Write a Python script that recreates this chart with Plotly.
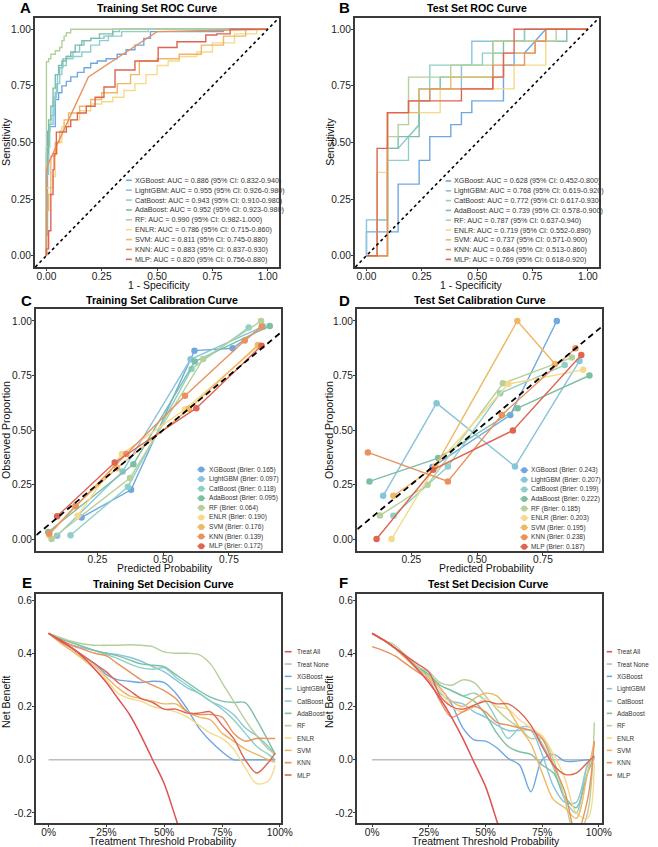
import plotly.graph_objects as go

W, H = 658, 847
FONT = "Liberation Sans, Arial, sans-serif"

MODELS = ["XGBoost", "LightGBM", "CatBoost", "AdaBoost", "RF", "ENLR", "SVM", "KNN", "MLP"]
COLORS = ["#6FA8E0", "#88C4DA", "#8ED0C6", "#7DBFA3", "#B5D09B", "#F6D98A", "#EEB865", "#E8925E", "#DE6454"]
TREAT_ALL_COLOR = "#E05252"
TREAT_NONE_COLOR = "#BDBDBD"

# ---------------- ROC training (step vertices, 'vh') ----------------
ROC_TRAIN = {
    "XGBoost": ([0, 0.005, 0.015, 0.04, 0.055, 0.07, 0.09, 0.11, 0.14, 0.17, 0.2, 0.23, 0.27, 0.32, 0.36, 0.4, 0.44, 0.47, 0.55, 0.8, 1.0],
                [0, 0.09, 0.55, 0.57, 0.69, 0.72, 0.75, 0.77, 0.79, 0.81, 0.83, 0.85, 0.86, 0.87, 0.89, 0.91, 0.93, 0.96, 0.99, 0.99, 1.0]),
    "LightGBM": ([0, 0.01, 0.015, 0.03, 0.04, 0.05, 0.06, 0.075, 0.09, 0.12, 0.15, 0.17, 0.2, 0.26, 0.3, 0.33, 1.0],
                 [0, 0.36, 0.55, 0.58, 0.68, 0.72, 0.80, 0.83, 0.87, 0.88, 0.90, 0.93, 0.95, 0.96, 0.97, 0.99, 1.0]),
    "CatBoost": ([0, 0.015, 0.02, 0.035, 0.045, 0.06, 0.07, 0.09, 0.12, 0.16, 0.2, 0.24, 0.28, 0.34, 0.46, 1.0],
                 [0, 0.48, 0.58, 0.62, 0.70, 0.76, 0.80, 0.84, 0.87, 0.88, 0.90, 0.93, 0.95, 0.97, 0.99, 1.0]),
    "AdaBoost": ([0, 0.01, 0.02, 0.03, 0.04, 0.055, 0.07, 0.09, 0.11, 0.13, 0.16, 0.2, 0.24, 0.3, 0.34, 1.0],
                 [0, 0.45, 0.60, 0.66, 0.74, 0.80, 0.84, 0.86, 0.88, 0.90, 0.93, 0.95, 0.96, 0.98, 1.0, 1.0]),
    "RF": ([0, 0.01, 0.02, 0.04, 0.06, 0.07, 0.08, 0.09, 0.11, 1.0],
           [0, 0.857, 0.87, 0.89, 0.905, 0.92, 0.95, 0.97, 0.985, 1.0]),
    "ENLR": ([0, 0.03, 0.04, 0.05, 0.07, 0.1, 0.15, 0.2, 0.25, 0.3, 0.35, 0.4, 0.45, 0.5, 0.55, 0.6, 0.68, 0.75, 0.85, 0.95, 1.0],
             [0, 0.3, 0.35, 0.45, 0.5, 0.57, 0.6, 0.64, 0.67, 0.68, 0.7, 0.73, 0.76, 0.8, 0.84, 0.86, 0.88, 0.9, 0.94, 0.98, 1.0]),
    "SVM": ([0, 0.01, 0.02, 0.04, 0.06, 0.08, 0.1, 0.15, 0.2, 0.25, 0.32, 0.38, 0.42, 0.5, 0.6, 0.7, 0.8, 0.9, 1.0],
            [0, 0.2, 0.27, 0.44, 0.5, 0.55, 0.6, 0.63, 0.66, 0.69, 0.72, 0.76, 0.80, 0.86, 0.87, 0.89, 0.93, 0.97, 1.0]),
    "KNN": ([0, 0, 0.01, 0.19, 0.5, 1.0],
            [0, 0.38, 0.41, 0.79, 0.99, 1.0]),
    "MLP": ([0, 0.01, 0.02, 0.03, 0.035, 0.045, 0.09, 0.11, 0.14, 0.18, 0.22, 0.26, 0.31, 0.40, 0.505, 0.59, 0.72, 0.77, 0.83, 1.0],
            [0, 0.03, 0.11, 0.27, 0.38, 0.45, 0.546, 0.57, 0.6, 0.63, 0.66, 0.70, 0.745, 0.82, 0.86, 0.92, 0.945, 0.975, 0.98, 1.0]),
}
ROC_TRAIN_SHAPE = {"KNN": "linear"}
ROC_TRAIN_LABELS = [
    "XGBoost: AUC = 0.886 (95% CI: 0.832-0.940)",
    "LightGBM: AUC = 0.955 (95% CI: 0.926-0.980)",
    "CatBoost: AUC = 0.943 (95% CI: 0.910-0.980)",
    "AdaBoost: AUC = 0.952 (95% CI: 0.923-0.980)",
    "RF: AUC = 0.990 (95% CI: 0.982-1.000)",
    "ENLR: AUC = 0.786 (95% CI: 0.715-0.860)",
    "SVM: AUC = 0.811 (95% CI: 0.745-0.880)",
    "KNN: AUC = 0.883 (95% CI: 0.837-0.930)",
    "MLP: AUC = 0.820 (95% CI: 0.756-0.880)",
]

# ---------------- ROC test (corners, linear) ----------------
ROC_TEST = {
    "XGBoost": ([0, 0, 0.143, 0.143, 0.238, 0.238, 0.286, 0.286, 0.381, 0.381, 0.429, 0.429, 0.476, 0.476, 0.619, 0.619, 0.667, 0.667, 0.714, 0.81, 1.0],
                [0, 0.105, 0.105, 0.316, 0.316, 0.421, 0.421, 0.526, 0.526, 0.579, 0.579, 0.632, 0.632, 0.684, 0.684, 0.842, 0.842, 0.895, 0.895, 1.0, 1.0]),
    "LightGBM": ([0, 0, 0.095, 0.095, 0.143, 0.19, 0.238, 0.238, 0.286, 0.286, 0.429, 0.429, 0.476, 0.476, 0.714, 0.714, 1.0],
                 [0, 0.158, 0.158, 0.474, 0.474, 0.526, 0.579, 0.684, 0.684, 0.737, 0.737, 0.842, 0.842, 0.947, 0.947, 1.0, 1.0]),
    "CatBoost": ([0, 0.048, 0.048, 0.095, 0.095, 0.19, 0.19, 0.238, 0.238, 0.286, 0.286, 0.524, 0.524, 0.571, 0.571, 0.714, 0.714, 1.0],
                 [0, 0, 0.158, 0.158, 0.421, 0.421, 0.526, 0.579, 0.737, 0.737, 0.842, 0.842, 0.895, 0.895, 0.947, 0.947, 1.0, 1.0]),
    "AdaBoost": ([0, 0.095, 0.095, 0.143, 0.143, 0.238, 0.238, 0.333, 0.333, 0.571, 0.571, 0.619, 0.619, 0.905, 0.905, 1.0],
                 [0, 0, 0.474, 0.474, 0.526, 0.526, 0.737, 0.737, 0.789, 0.789, 0.895, 0.895, 0.947, 0.947, 1.0, 1.0]),
    "RF": ([0, 0.095, 0.095, 0.143, 0.143, 0.19, 0.19, 0.381, 0.381, 0.571, 0.571, 0.857, 0.857, 1.0],
           [0, 0, 0.526, 0.526, 0.579, 0.579, 0.789, 0.789, 0.842, 0.842, 0.947, 0.947, 1.0, 1.0]),
    "ENLR": ([0, 0.048, 0.048, 0.095, 0.095, 0.333, 0.333, 0.667, 0.667, 0.81, 0.81, 1.0],
             [0, 0, 0.368, 0.368, 0.632, 0.632, 0.737, 0.737, 0.842, 0.842, 1.0, 1.0]),
    "SVM": ([0, 0.095, 0.095, 0.238, 0.238, 0.381, 0.381, 0.619, 0.619, 0.762, 0.762, 0.81, 0.81, 1.0],
            [0, 0, 0.632, 0.632, 0.737, 0.737, 0.789, 0.789, 0.895, 0.895, 0.947, 0.947, 1.0, 1.0]),
    "KNN": ([0, 0.095, 0.095, 0.19, 0.19, 0.286, 0.286, 0.571, 0.571, 0.714, 0.714, 0.762, 0.762, 0.81, 0.81, 1.0],
            [0, 0, 0.632, 0.632, 0.684, 0.684, 0.737, 0.737, 0.842, 0.842, 0.895, 0.895, 0.947, 0.947, 1.0, 1.0]),
    "MLP": ([0, 0.048, 0.048, 0.095, 0.095, 0.19, 0.19, 0.429, 0.429, 0.571, 0.571, 0.619, 0.619, 0.667, 0.667, 1.0],
            [0, 0, 0.474, 0.474, 0.632, 0.632, 0.684, 0.684, 0.737, 0.737, 0.789, 0.789, 0.895, 0.895, 1.0, 1.0]),
}
ROC_TEST_LABELS = [
    "XGBoost: AUC = 0.628 (95% CI: 0.452-0.800)",
    "LightGBM: AUC = 0.768 (95% CI: 0.619-0.920)",
    "CatBoost: AUC = 0.772 (95% CI: 0.617-0.930)",
    "AdaBoost: AUC = 0.739 (95% CI: 0.578-0.900)",
    "RF: AUC = 0.787 (95% CI: 0.637-0.940)",
    "ENLR: AUC = 0.719 (95% CI: 0.552-0.890)",
    "SVM: AUC = 0.737 (95% CI: 0.571-0.900)",
    "KNN: AUC = 0.684 (95% CI: 0.513-0.860)",
    "MLP: AUC = 0.769 (95% CI: 0.618-0.920)",
]

# ---------------- Calibration ----------------
CAL_TRAIN = {
    "XGBoost": ([0.19, 0.378, 0.619, 0.764, 0.878], [0.099, 0.226, 0.864, 0.875, 0.974]),
    "LightGBM": ([0.097, 0.346, 0.604, 0.88], [0.015, 0.31, 0.824, 0.975]),
    "CatBoost": ([0.148, 0.366, 0.608, 0.825], [0.017, 0.24, 0.78, 0.97]),
    "AdaBoost": ([0.063, 0.387, 0.62, 0.905], [0.032, 0.343, 0.814, 0.977]),
    "RF": ([0.076, 0.374, 0.652, 0.872], [0.0, 0.28, 0.826, 1.0]),
    "ENLR": ([0.175, 0.343, 0.583, 0.864], [0.107, 0.39, 0.595, 0.886]),
    "SVM": ([0.067, 0.167, 0.325, 0.598, 0.86], [0.02, 0.153, 0.325, 0.597, 0.89]),
    "KNN": ([0.067, 0.167, 0.36, 0.583, 0.81, 0.874], [0.025, 0.15, 0.39, 0.657, 0.91, 0.974]),
    "MLP": ([0.097, 0.316, 0.626, 0.874], [0.104, 0.351, 0.6, 0.887]),
}
CAL_TRAIN_LABELS = ["XGBoost (Brier: 0.165)", "LightGBM (Brier: 0.097)", "CatBoost (Brier: 0.118)",
                    "AdaBoost (Brier: 0.095)", "RF (Brier: 0.064)", "ENLR (Brier: 0.190)",
                    "SVM (Brier: 0.176)", "KNN (Brier: 0.139)", "MLP (Brier: 0.172)"]
CAL_TEST = {
    "XGBoost": ([0.33, 0.626, 0.803], [0.33, 0.569, 1.0]),
    "LightGBM": ([0.143, 0.346, 0.644, 0.889], [0.198, 0.623, 0.333, 0.817]),
    "CatBoost": ([0.182, 0.389, 0.588, 0.833], [0.107, 0.333, 0.669, 0.798]),
    "AdaBoost": ([0.091, 0.352, 0.654, 0.927], [0.264, 0.371, 0.6, 0.75]),
    "RF": ([0.131, 0.312, 0.598, 0.86], [0.108, 0.249, 0.714, 0.832]),
    "ENLR": ([0.175, 0.342, 0.619, 0.903], [0.0, 0.336, 0.711, 0.776]),
    "SVM": ([0.182, 0.34, 0.653, 0.796], [0.198, 0.33, 1.0, 0.803]),
    "KNN": ([0.085, 0.389, 0.594, 0.874], [0.397, 0.264, 0.569, 0.875]),
    "MLP": ([0.118, 0.333, 0.636, 0.896], [0.0, 0.318, 0.498, 0.844]),
}
CAL_TEST_LABELS = ["XGBoost (Brier: 0.243)", "LightGBM (Brier: 0.207)", "CatBoost (Brier: 0.199)",
                   "AdaBoost (Brier: 0.222)", "RF (Brier: 0.185)", "ENLR (Brier: 0.203)",
                   "SVM (Brier: 0.195)", "KNN (Brier: 0.238)", "MLP (Brier: 0.187)"]

# ---------------- Decision curves ----------------
DCA_T = [0, 0.05, 0.1, 0.15, 0.2, 0.25, 0.3, 0.35, 0.4, 0.45, 0.5, 0.55, 0.6, 0.65, 0.7, 0.75, 0.8, 0.85, 0.9, 0.95, 0.98]
TREAT_ALL_T = [0, 0.05, 0.1, 0.15, 0.2, 0.25, 0.3, 0.35, 0.4, 0.45, 0.5, 0.55, 0.6]
TREAT_ALL_TRAIN = [0.475, 0.45, 0.42, 0.385, 0.34, 0.29, 0.23, 0.17, 0.09, 0.0, -0.09, -0.22, -0.36]
TREAT_ALL_TEST = [0.475, 0.45, 0.42, 0.385, 0.34, 0.29, 0.23, 0.16, 0.08, -0.01, -0.1, -0.23, -0.37]
TREAT_NONE_T = [0, 0.98]
TREAT_NONE_NB = [0, 0]
DCA_TRAIN = {
    "XGBoost": [0.475, 0.45, 0.42, 0.39, 0.36, 0.32, 0.30, 0.295, 0.29, 0.295, 0.29, 0.25, 0.19, 0.12, 0.07, 0.03, 0.0, 0.0, 0.0, 0.0, 0.0],
    "LightGBM": [0.475, 0.45, 0.43, 0.42, 0.41, 0.40, 0.395, 0.385, 0.37, 0.35, 0.33, 0.30, 0.27, 0.25, 0.22, 0.20, 0.17, 0.12, 0.09, 0.05, 0.02],
    "CatBoost": [0.475, 0.455, 0.44, 0.425, 0.41, 0.395, 0.38, 0.36, 0.345, 0.34, 0.345, 0.31, 0.28, 0.25, 0.22, 0.19, 0.15, 0.10, 0.05, 0.02, 0.0],
    "AdaBoost": [0.475, 0.455, 0.44, 0.425, 0.41, 0.40, 0.39, 0.375, 0.36, 0.355, 0.35, 0.32, 0.29, 0.26, 0.235, 0.22, 0.215, 0.215, 0.15, 0.07, 0.02],
    "RF": [0.475, 0.46, 0.445, 0.435, 0.43, 0.43, 0.43, 0.432, 0.43, 0.425, 0.405, 0.40, 0.40, 0.395, 0.36, 0.29, 0.22, 0.15, 0.09, 0.04, 0.02],
    "ENLR": [0.475, 0.44, 0.41, 0.375, 0.34, 0.30, 0.25, 0.23, 0.22, 0.20, 0.19, 0.18, 0.16, 0.13, 0.10, 0.08, 0.04, -0.03, -0.09, -0.08, -0.02],
    "SVM": [0.475, 0.44, 0.41, 0.38, 0.35, 0.31, 0.27, 0.24, 0.23, 0.22, 0.21, 0.21, 0.18, 0.16, 0.15, 0.10, 0.07, 0.04, 0.02, 0.0, -0.01],
    "KNN": [0.475, 0.45, 0.43, 0.415, 0.40, 0.39, 0.36, 0.33, 0.30, 0.28, 0.26, 0.23, 0.18, 0.17, 0.17, 0.16, 0.10, 0.07, 0.08, 0.08, 0.08],
    "MLP": [0.475, 0.445, 0.42, 0.39, 0.36, 0.33, 0.29, 0.26, 0.23, 0.215, 0.19, 0.19, 0.175, 0.175, 0.18, 0.13, 0.08, 0.0, -0.05, -0.01, 0.025],
}
DCA_TEST = {
    "XGBoost": [0.475, 0.45, 0.42, 0.38, 0.34, 0.31, 0.27, 0.21, 0.12, 0.075, 0.07, 0.045, 0.005, -0.02, -0.12, 0.0, 0.02, -0.005, -0.005, 0.0, 0.0],
    "LightGBM": [0.475, 0.45, 0.42, 0.385, 0.35, 0.31, 0.25, 0.22, 0.21, 0.18, 0.16, 0.13, 0.11, 0.11, 0.11, 0.02, -0.1, -0.16, -0.16, -0.02, 0.01],
    "CatBoost": [0.475, 0.45, 0.42, 0.385, 0.35, 0.32, 0.28, 0.26, 0.24, 0.25, 0.22, 0.15, 0.08, 0.12, 0.12, 0.06, -0.03, -0.15, -0.2, -0.02, 0.01],
    "AdaBoost": [0.475, 0.45, 0.42, 0.385, 0.35, 0.32, 0.28, 0.26, 0.24, 0.22, 0.17, 0.10, 0.05, 0.03, 0.02, -0.02, -0.05, -0.14, -0.18, -0.05, 0.01],
    "RF": [0.475, 0.45, 0.43, 0.39, 0.35, 0.33, 0.29, 0.28, 0.30, 0.29, 0.24, 0.19, 0.15, 0.12, 0.08, 0.08, 0.0, -0.15, -0.3, -0.2, 0.14],
    "ENLR": [0.475, 0.45, 0.42, 0.38, 0.34, 0.31, 0.26, 0.2, 0.18, 0.2, 0.23, 0.2, 0.19, 0.15, 0.12, 0.09, 0.02, -0.07, -0.2, -0.22, -0.01],
    "SVM": [0.475, 0.45, 0.42, 0.38, 0.34, 0.31, 0.27, 0.22, 0.2, 0.23, 0.25, 0.24, 0.19, 0.12, 0.06, -0.05, -0.15, -0.18, -0.22, -0.05, 0.07],
    "KNN": [0.425, 0.41, 0.39, 0.36, 0.33, 0.30, 0.22, 0.16, 0.18, 0.2, 0.18, 0.14, 0.13, 0.12, 0.11, 0.08, -0.02, -0.12, -0.28, -0.15, 0.07],
    "MLP": [0.475, 0.45, 0.42, 0.39, 0.36, 0.33, 0.24, 0.2, 0.19, 0.205, 0.22, 0.21, 0.21, 0.18, 0.13, 0.05, -0.02, -0.055, -0.05, -0.01, 0.015],
}
DCA_LEGEND = ["Treat All", "Treat None"] + MODELS

# ---------------- layout helpers ----------------
def pxx(x):
    return x / W

def pyy(y):
    return 1 - y / H

# panel boxes in pixels: (left, right, top, bottom), axis ranges
PANELS = [
    dict(box=(36, 284, 18, 267), xr=[-0.05, 1.05], yr=[-0.05, 1.05]),
    dict(box=(362, 610, 18, 267), xr=[-0.05, 1.05], yr=[-0.05, 1.05]),
    dict(box=(37, 286, 309, 551), xr=[0.018, 0.947], yr=[-0.055, 1.055]),
    dict(box=(364, 613, 309, 551), xr=[0.045, 0.974], yr=[-0.055, 1.055]),
    dict(box=(37, 286, 594, 823), xr=[-0.053, 1.004], yr=[-0.2376, 0.6226]),
    dict(box=(364, 613, 594, 823), xr=[-0.065, 1.013], yr=[-0.2376, 0.6226]),
]

fig = go.Figure()
layout = dict(width=W, height=H, margin=dict(l=0, r=0, t=0, b=0), showlegend=False,
              plot_bgcolor="white", paper_bgcolor="white", font=dict(family=FONT))

AX_COMMON = dict(showline=True, mirror=True, linecolor="#3a3a3a", linewidth=1.8, ticks="outside",
                 ticklen=2.5, tickwidth=1, tickcolor="#3a3a3a", showgrid=False, zeroline=False,
                 tickfont=dict(size=10.2, color="#1a1a1a", family=FONT), fixedrange=True)

for i, p in enumerate(PANELS, start=1):
    l, r, t, b = p["box"]
    xa = dict(AX_COMMON, domain=[pxx(l), pxx(r)], range=p["xr"], anchor=f"y{i}" if i > 1 else "y",
              ticklabelstandoff=-5 if i in (3, 4) else -4)
    ya = dict(AX_COMMON, domain=[pyy(b), pyy(t)], range=p["yr"], anchor=f"x{i}" if i > 1 else "x",
              ticklabelstandoff=-2)
    if i in (1, 2):
        xa.update(tickvals=[0, 0.25, 0.5, 0.75, 1.0], ticktext=["0.00", "0.25", "0.50", "0.75", "1.00"])
        ya.update(tickvals=[0, 0.25, 0.5, 0.75, 1.0], ticktext=["0.00", "0.25", "0.50", "0.75", "1.00"])
    elif i in (3, 4):
        xa.update(tickvals=[0.25, 0.5, 0.75], ticktext=["0.25", "0.50", "0.75"])
        ya.update(tickvals=[0, 0.25, 0.5, 0.75, 1.0], ticktext=["0.00", "0.25", "0.50", "0.75", "1.00"])
    else:
        xa.update(tickvals=[0, 0.25, 0.5, 0.75, 1.0], ticktext=["0%", "25%", "50%", "75%", "100%"])
        ya.update(tickvals=[-0.2, 0, 0.2, 0.4, 0.6], ticktext=["-0.2", "0.0", "0.2", "0.4", "0.6"])
    layout["xaxis" if i == 1 else f"xaxis{i}"] = xa
    layout["yaxis" if i == 1 else f"yaxis{i}"] = ya

def axn(i):
    return ("x", "y") if i == 1 else (f"x{i}", f"y{i}")

shapes = []
annotations = []

# reference diagonal lines
for i in (1, 2):
    xr, yr = axn(i)
    shapes.append(dict(type="line", xref=f"{xr} domain", yref=f"{yr} domain", x0=0, y0=0, x1=1, y1=1,
                       line=dict(color="black", width=1.6, dash="3px,3px"), layer="above"))
for i in (3, 4):
    xr, yr = axn(i)
    lo, hi = PANELS[i - 1]["xr"]
    shapes.append(dict(type="line", xref=xr, yref=yr, x0=lo, y0=lo, x1=hi, y1=hi,
                       line=dict(color="black", width=1.8, dash="6px,4px"), layer="above"))

# ROC traces
for i, data, shp in ((1, ROC_TRAIN, ROC_TRAIN_SHAPE), (2, ROC_TEST, {})):
    xr, yr = axn(i)
    for m, c in zip(MODELS, COLORS):
        x, y = data[m]
        shape = shp.get(m, "vh" if i == 1 else "linear")
        fig.add_trace(go.Scatter(x=x, y=y, mode="lines", line=dict(color=c, width=1.4, shape=shape),
                                 xaxis=xr, yaxis=yr, hoverinfo="skip"))

# Calibration traces
for i, data in ((3, CAL_TRAIN), (4, CAL_TEST)):
    xr, yr = axn(i)
    for m, c in zip(MODELS, COLORS):
        x, y = data[m]
        fig.add_trace(go.Scatter(x=x, y=y, mode="lines+markers", line=dict(color=c, width=1.4),
                                 marker=dict(color=c, size=6.5), xaxis=xr, yaxis=yr, hoverinfo="skip"))

# Decision curves
for i, data, ta in ((5, DCA_TRAIN, TREAT_ALL_TRAIN), (6, DCA_TEST, TREAT_ALL_TEST)):
    xr, yr = axn(i)
    fig.add_trace(go.Scatter(x=TREAT_NONE_T, y=TREAT_NONE_NB, mode="lines",
                             line=dict(color=TREAT_NONE_COLOR, width=1.6), xaxis=xr, yaxis=yr, hoverinfo="skip"))
    for m, c in zip(MODELS, COLORS):
        fig.add_trace(go.Scatter(x=DCA_T, y=data[m], mode="lines",
                                 line=dict(color=c, width=1.4, shape="spline", smoothing=0.9),
                                 xaxis=xr, yaxis=yr, hoverinfo="skip"))
    fig.add_trace(go.Scatter(x=TREAT_ALL_T, y=ta, mode="lines",
                             line=dict(color=TREAT_ALL_COLOR, width=1.5, shape="spline", smoothing=0.9),
                             xaxis=xr, yaxis=yr, hoverinfo="skip"))

# ---------------- text ----------------
def text(x, y, s, size, bold=False, angle=0, xanchor="center", yanchor="middle", color="#111"):
    annotations.append(dict(x=pxx(x), y=pyy(y), xref="paper", yref="paper", text=f"<b>{s}</b>" if bold else s,
                            showarrow=False, xanchor=xanchor, yanchor=yanchor, textangle=angle,
                            font=dict(size=size, color=color, family=FONT)))

LETTERS = [("A", 26, 8), ("B", 351, 8), ("C", 27, 300), ("D", 351, 300), ("E", 27, 582), ("F", 350, 582)]
for s, x, y in LETTERS:
    text(x, y, s, 15, bold=True, color="black")

TITLES = [("Training Set ROC Curve", 160, 7.5), ("Test Set ROC Curve", 486, 7.5),
          ("Training Set Calibration Curve", 164.5, 300), ("Test Set Calibration Curve", 488.5, 300),
          ("Training Set Decision Curve", 167, 583.5), ("Test Set Decision Curve", 498, 583.5)]
for s, x, y in TITLES:
    text(x, y, s, 10.6, bold=True, color="black")

XTITLES = [("1 - Specificity", 162, 285), ("1 - Specificity", 480, 285),
           ("Predicted Probability", 168, 568.5), ("Predicted Probability", 496, 568.5),
           ("Treatment Threshold Probability", 166, 841), ("Treatment Threshold Probability", 495, 841)]
for s, x, y in XTITLES:
    text(x, y, s, 10.4)
YTITLES = [("Sensitivity", 6, 142), ("Sensitivity", 336, 142),
           ("Observed Proportion", 6, 430), ("Observed Proportion", 335, 430),
           ("Net Benefit", 6, 702), ("Net Benefit", 335, 702)]
for s, x, y in YTITLES:
    text(x, y, s, 10.6, angle=-90)

# ---------------- manual legends ----------------
def line_legend(x0, x1, xt, y0, dy, labels, colors, size):
    for k, (lab, c) in enumerate(zip(labels, colors)):
        yy = y0 + k * dy
        shapes.append(dict(type="line", xref="paper", yref="paper", x0=pxx(x0), x1=pxx(x1), y0=pyy(yy), y1=pyy(yy),
                           line=dict(color=c, width=1.6)))
        text(xt, yy, lab, size, xanchor="left", color="#333")

def marker_legend(x0, x1, xt, y0, dy, labels, colors, size):
    for k, (lab, c) in enumerate(zip(labels, colors)):
        yy = y0 + k * dy
        xc = (x0 + x1) / 2
        shapes.append(dict(type="line", xref="paper", yref="paper", x0=pxx(x0), x1=pxx(x1), y0=pyy(yy), y1=pyy(yy),
                           line=dict(color=c, width=1.4)))
        shapes.append(dict(type="circle", xref="paper", yref="paper", xsizemode="pixel", ysizemode="pixel",
                           xanchor=pxx(xc), yanchor=pyy(yy), x0=-3, x1=3, y0=-3, y1=3,
                           fillcolor=c, line=dict(width=0)))
        text(xt, yy, lab, size, xanchor="left", color="#333")

line_legend(128.3, 134.3, 135.5, 180.3, 9.88, ROC_TRAIN_LABELS, COLORS, 7.2)
line_legend(454, 459.5, 460.5, 181, 9.8, ROC_TEST_LABELS, COLORS, 7.2)
marker_legend(201, 209, 211.3, 469.5, 9.58, CAL_TRAIN_LABELS, COLORS, 6.6)
marker_legend(530, 538, 539.3, 470.3, 9.55, CAL_TEST_LABELS, COLORS, 6.6)
DCA_COLORS = [TREAT_ALL_COLOR, TREAT_NONE_COLOR] + COLORS
line_legend(290, 297, 300, 651.7, 12.33, DCA_LEGEND, DCA_COLORS, 6.4)
line_legend(618, 623.5, 626.5, 651.7, 12.33, DCA_LEGEND, DCA_COLORS, 6.4)

layout["shapes"] = shapes
layout["annotations"] = annotations
fig.update_layout(**layout)
fig.write_html("out.html")
